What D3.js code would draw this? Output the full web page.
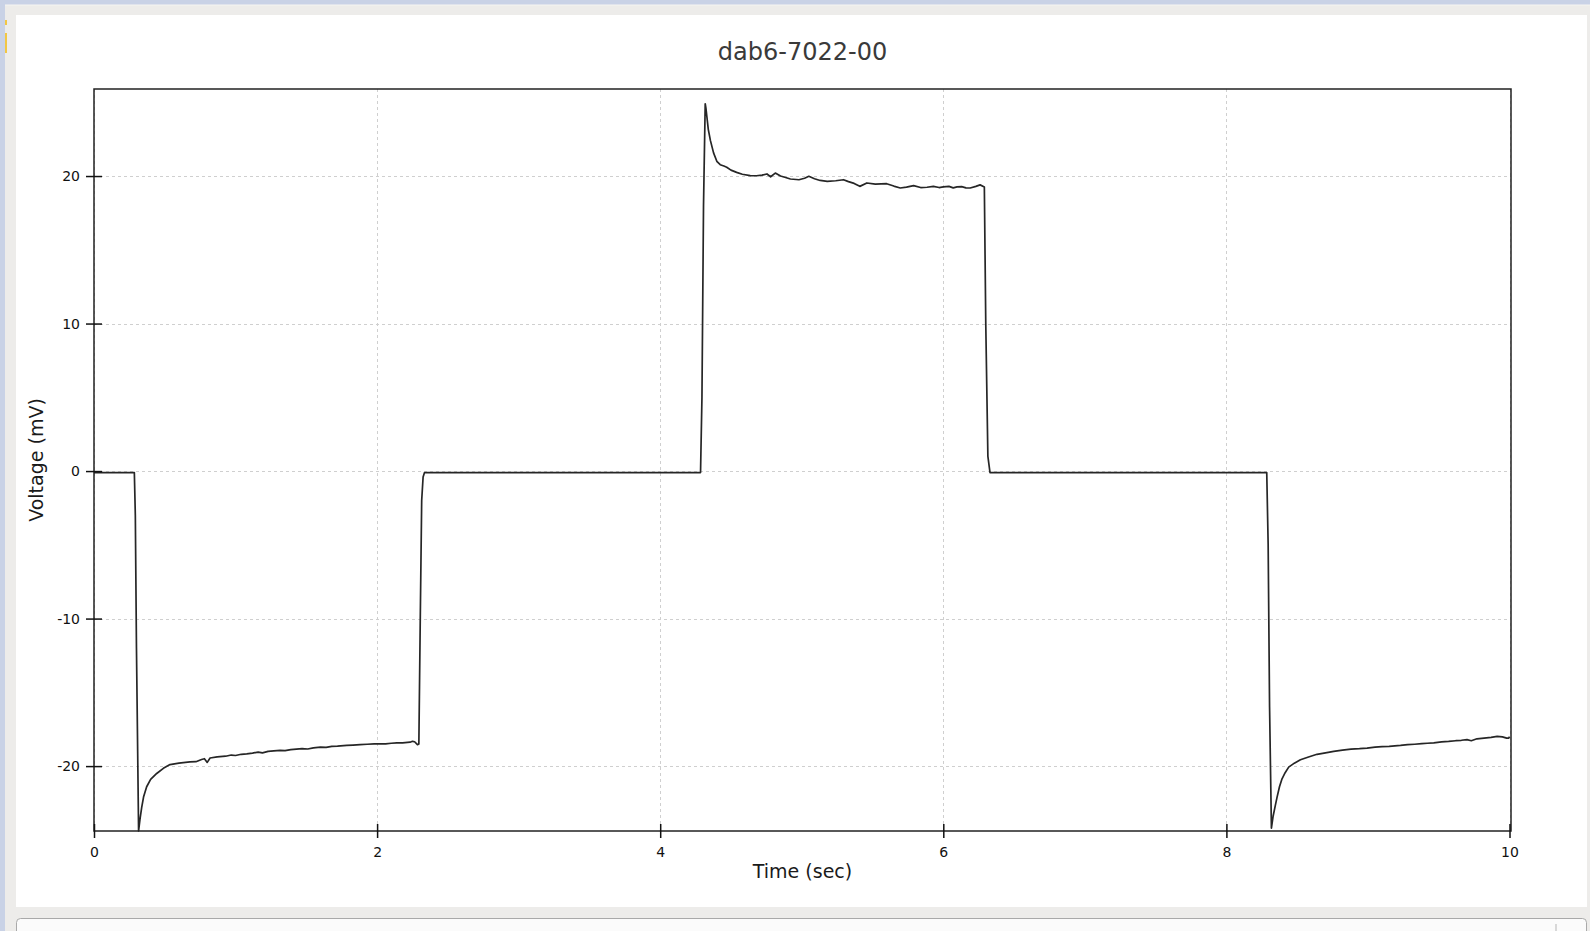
<!DOCTYPE html>
<html>
<head>
<meta charset="utf-8">
<title>dab6-7022-00</title>
<script src="https://cdn.jsdelivr.net/npm/d3@7"></script>
<style>
    body { margin: 0; padding: 0; overflow: hidden; background: #c9d2e6; }
    .gridLines { stroke: #cfcfcf; stroke-width: 1; stroke-dasharray: 3,3; fill: none; }
    .trace { fill: none; stroke: #262626; stroke-width: 1.7; stroke-linejoin: round; }
    .frame { fill: none; stroke: #222; stroke-width: 1.5; }
    .tick line { stroke: #111; stroke-width: 1.5; }
    .tick text { font-family: "DejaVu Sans", sans-serif; font-size: 14px; fill: #111; }
    .label { font-family: "DejaVu Sans", sans-serif; font-size: 19px; fill: #1a1a1a; }
    .title { font-family: "DejaVu Sans", sans-serif; font-size: 24px; fill: #3a3a3a; }
</style>
</head>
<body>
<script>
//trace values (time in sec, voltage in mV)
var timeSec = [
    0, 0.1, 0.2, 0.285,
    0.292, 0.30, 0.315,
    0.325, 0.337, 0.35, 0.372, 0.40, 0.443, 0.49, 0.537, 0.6, 0.678, 0.72, 0.76, 0.78, 0.80, 0.82,
    0.87, 0.93, 0.97, 1.0, 1.04, 1.079, 1.12, 1.16, 1.19, 1.23, 1.27, 1.315, 1.35, 1.39, 1.43,
    1.47, 1.51, 1.55, 1.6, 1.64, 1.68, 1.72, 1.786, 1.83, 1.88, 1.93, 1.98, 2.02, 2.06, 2.1,
    2.14, 2.18, 2.233, 2.25, 2.265, 2.285, 2.295,
    2.305, 2.315, 2.325, 2.335,
    3, 4, 4.285,
    4.295, 4.306, 4.318, 4.323, 4.33, 4.34, 4.355, 4.377, 4.40, 4.424, 4.45, 4.47, 4.5, 4.54,
    4.58, 4.636, 4.68, 4.72, 4.754, 4.78, 4.813, 4.85, 4.88, 4.92, 4.98, 5.02, 5.05, 5.09, 5.13,
    5.18, 5.24, 5.295, 5.33, 5.37, 5.41, 5.46, 5.52, 5.6, 5.65, 5.696, 5.74, 5.79, 5.84, 5.885,
    5.93, 5.97, 6.0, 6.04, 6.07, 6.097, 6.13, 6.16, 6.19, 6.23, 6.26, 6.29,
    6.30, 6.315, 6.33,
    7, 8, 8.285,
    8.295, 8.305, 8.318, 8.33, 8.345, 8.358, 8.375, 8.393, 8.415, 8.44, 8.48, 8.523, 8.58, 8.64,
    8.7, 8.758, 8.82, 8.88, 8.94, 8.994, 9.05, 9.1, 9.15, 9.23, 9.28, 9.33, 9.38, 9.42, 9.465,
    9.52, 9.57, 9.62, 9.66, 9.7, 9.73, 9.77, 9.82, 9.87, 9.913, 9.95, 9.98, 9.995, 10
];

var voltageMv = [
    -0.1, -0.1, -0.1, -0.1,
    -3, -12, -24.4,
    -23.6, -22.8, -22.1, -21.4, -20.9, -20.5, -20.15, -19.9, -19.8, -19.72, -19.7, -19.55, -19.5, -19.75, -19.45,
    -19.38, -19.33, -19.25, -19.28, -19.2, -19.17, -19.12, -19.05, -19.1, -19.0, -18.97, -18.94, -18.95, -18.88, -18.85,
    -18.82, -18.84, -18.76, -18.72, -18.73, -18.66, -18.65, -18.6, -18.58, -18.55, -18.52, -18.5, -18.49, -18.5, -18.45,
    -18.43, -18.42, -18.38, -18.32, -18.35, -18.55, -18.5,
    -10, -2, -0.4, -0.1,
    -0.1, -0.1, -0.1,
    5, 18, 24.9, 24.6, 24.0, 23.15, 22.4, 21.57, 21.0, 20.77, 20.68, 20.6, 20.4, 20.25,
    20.12, 20.03, 20.02, 20.06, 20.14, 19.95, 20.2, 20.0, 19.92, 19.8, 19.75, 19.85, 19.98, 19.82, 19.7,
    19.64, 19.68, 19.75, 19.62, 19.5, 19.3, 19.53, 19.45, 19.48, 19.32, 19.19, 19.25, 19.35, 19.22, 19.24,
    19.3, 19.22, 19.26, 19.3, 19.2, 19.26, 19.28, 19.2, 19.19, 19.3, 19.4, 19.26,
    10, 1, -0.1,
    -0.1, -0.1, -0.1,
    -5, -16, -24.2, -23.4, -22.7, -22.1, -21.4, -20.86, -20.45, -20.07, -19.8, -19.57, -19.38, -19.2,
    -19.1, -19.0, -18.92, -18.85, -18.82, -18.78, -18.72, -18.68, -18.66, -18.6, -18.55, -18.52, -18.48, -18.45, -18.42,
    -18.36, -18.33, -18.28, -18.25, -18.21, -18.28, -18.15, -18.1, -18.05, -17.99, -18.02, -18.1, -18.1, -18.0
];

var xTicks = [0, 2, 4, 6, 8, 10];
var yTicks = [-20, -10, 0, 10, 20];

var chartTitle = "dab6-7022-00",
    xLabel = "Time (sec)",
    yLabel = "Voltage (mV)";

window.onload = drawChart();

function drawChart(){

    //page frame dimensions
    var width = 1590,
        height = 931;

    var svg = d3.select("body")
        .append("svg")
        .attr("width", width)
        .attr("height", height);

    //window chrome round the chart panel
    svg.append("rect").attr("x", 0).attr("y", 0).attr("width", width).attr("height", height).attr("fill", "#c9d2e6");
    svg.append("rect").attr("x", 5).attr("y", 5).attr("width", width - 5).attr("height", height - 5).attr("fill", "#edecea");
    svg.append("line").attr("x1", 5).attr("x2", width).attr("y1", 5).attr("y2", 5).attr("stroke", "#f6f5f2");
    svg.append("rect").attr("x", 5).attr("y", 20).attr("width", 2).attr("height", 5).attr("fill", "#f2c744");
    svg.append("rect").attr("x", 5).attr("y", 33).attr("width", 2).attr("height", 20).attr("fill", "#f2c744");
    svg.append("rect").attr("x", 16).attr("y", 15).attr("width", 1571).attr("height", 892).attr("fill", "#ffffff");
    svg.append("rect").attr("x", 16.5).attr("y", 918.5).attr("width", 1570).attr("height", 30)
        .attr("rx", 4).attr("fill", "#fbfbfb").attr("stroke", "#a9a9a9");
    svg.append("line").attr("x1", 1556).attr("x2", 1556).attr("y1", 924).attr("y2", 931).attr("stroke", "#b5b5b5");

    //plot area
    var plot = { left: 94, top: 89, right: 1511, bottom: 831 };

    var x = d3.scaleLinear()
        .domain([0, 10])
        .range([plot.left, plot.right - 1.5]);

    var y = d3.scaleLinear()
        .domain([-24.4, 25.9])
        .range([plot.bottom, plot.top]);

    //dashed grid
    svg.selectAll(".vGrid")
        .data(xTicks)
        .enter()
        .append("line")
        .attr("class", "gridLines")
        .attr("x1", function(d){ return Math.round(x(d)) + 0.5; })
        .attr("x2", function(d){ return Math.round(x(d)) + 0.5; })
        .attr("y1", plot.top)
        .attr("y2", plot.bottom);

    svg.selectAll(".hGrid")
        .data(yTicks)
        .enter()
        .append("line")
        .attr("class", "gridLines")
        .attr("x1", plot.left)
        .attr("x2", plot.right)
        .attr("y1", function(d){ return Math.round(y(d)) + 0.5; })
        .attr("y2", function(d){ return Math.round(y(d)) + 0.5; });

    //the voltage trace
    var points = timeSec.map(function(t, i){ return [t, voltageMv[i]]; });

    var line = d3.line()
        .x(function(d){ return x(d[0]); })
        .y(function(d){ return y(d[1]); });

    svg.append("path")
        .datum(points)
        .attr("class", "trace")
        .attr("d", line);

    //frame round the plot
    svg.append("rect")
        .attr("class", "frame")
        .attr("x", plot.left)
        .attr("y", plot.top)
        .attr("width", plot.right - plot.left)
        .attr("height", plot.bottom - plot.top);

    //plain hyphen for negatives, like the original
    var plainFormat = function(d){ return String(d); };

    //axes, ticks cross the frame line
    var xAxis = d3.axisBottom(x)
        .tickValues(xTicks)
        .tickFormat(plainFormat)
        .tickSize(7)
        .tickPadding(9);

    var gx = svg.append("g")
        .attr("transform", "translate(0," + plot.bottom + ")")
        .call(xAxis);
    gx.select(".domain").remove();
    gx.selectAll(".tick line").attr("y1", -7);

    var yAxis = d3.axisLeft(y)
        .tickValues(yTicks)
        .tickFormat(plainFormat)
        .tickSize(8)
        .tickPadding(6);

    var gy = svg.append("g")
        .attr("transform", "translate(" + plot.left + ",0)")
        .call(yAxis);
    gy.select(".domain").remove();
    gy.selectAll(".tick line").attr("x1", 8);

    //title and axis labels
    var midX = (plot.left + plot.right) / 2;

    svg.append("text")
        .attr("class", "title")
        .attr("x", midX)
        .attr("y", 60)
        .attr("text-anchor", "middle")
        .text(chartTitle);

    svg.append("text")
        .attr("class", "label")
        .attr("x", midX)
        .attr("y", 878)
        .attr("text-anchor", "middle")
        .text(xLabel);

    svg.append("text")
        .attr("class", "label")
        .attr("transform", "translate(43," + ((plot.top + plot.bottom) / 2) + ") rotate(-90)")
        .attr("text-anchor", "middle")
        .text(yLabel);

};
</script>
</body>
</html>
